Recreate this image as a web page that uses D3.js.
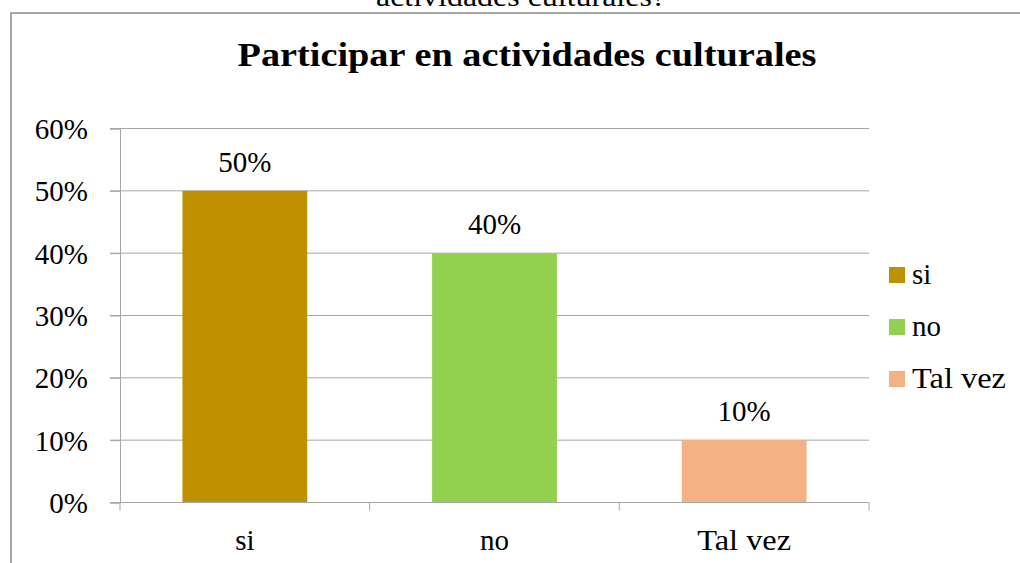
<!DOCTYPE html>
<html>
<head>
<meta charset="utf-8">
<script src="https://cdn.jsdelivr.net/npm/d3@7"></script>
<style>
  body { margin: 0; background: #fff; }
  text { font-family: "Liberation Serif", "Times New Roman", serif; fill: #000; }
</style>
</head>
<body>
<div id="main"></div>
<script>
// data
const categories = ["si", "no", "Tal vez"];
const values = [0.5, 0.4, 0.1];
const colors = ["#BF9000", "#92D050", "#F4B183"];
const yTicks = [0, 0.1, 0.2, 0.3, 0.4, 0.5, 0.6];

const width = 1020;
const height = 563;

const svg = d3.select('#main')
              .append('svg')
              .attr('width', width)
              .attr('height', height);

// helper: stretch wider words like the source
function fit(sel) {
  sel.each(function(d) {
    if (d === 'Tal vez') d3.select(this).attr('textLength', 94).attr('lengthAdjust', 'spacingAndGlyphs');
  });
}

// cut off caption above the chart frame
svg.append('text')
   .attr('x', 521).attr('y', 6)
   .attr('text-anchor', 'middle')
   .style('font-size', '28px')
   .attr('textLength', 290).attr('lengthAdjust', 'spacingAndGlyphs')
   .text('actividades culturales?');

// chart frame
svg.append('path')
   .attr('d', 'M11,' + height + ' V13 H' + width)
   .attr('fill', 'none')
   .attr('stroke', '#a6a6a6')
   .attr('stroke-width', 2);

// title
svg.append('text')
   .attr('x', 527).attr('y', 66)
   .attr('text-anchor', 'middle')
   .style('font-size', '34px')
   .style('font-weight', 'bold')
   .attr('textLength', 579).attr('lengthAdjust', 'spacingAndGlyphs')
   .text('Participar en actividades culturales');

// scales
const xScale = d3.scaleBand().domain(categories).range([120, 869]).paddingInner(0.5).paddingOuter(0.25);
const yScale = d3.scaleLinear().domain([0, 0.6]).range([502.5, 128.5]);

// gridlines
svg.append('g').selectAll('line').data(yTicks).enter()
   .append('line')
   .attr('x1', 110).attr('x2', 869)
   .attr('y1', d => yScale(d)).attr('y2', d => yScale(d))
   .attr('stroke', '#a6a6a6').attr('stroke-width', 1);

// y axis
const yAxis = d3.axisLeft(yScale).tickValues(yTicks).tickFormat(d3.format('.0%')).tickSize(10).tickPadding(22);
const gy = svg.append('g').attr('transform', 'translate(120,0)').call(yAxis);
gy.attr('font-family', null).attr('font-size', null);
gy.select('.domain').attr('stroke', '#a6a6a6');
gy.selectAll('.tick line').attr('stroke', '#a6a6a6');
gy.selectAll('.tick text').style('font-size', '29px').attr('dy', '0.34em');

// bars
svg.selectAll('.bar').data(values).enter()
   .append('rect').attr('class', 'bar')
   .attr('x', (d, i) => xScale(categories[i]))
   .attr('width', xScale.bandwidth())
   .attr('y', d => yScale(d))
   .attr('height', d => yScale(0) - yScale(d))
   .attr('fill', (d, i) => colors[i]);

// value labels
svg.selectAll('.lbl').data(values).enter()
   .append('text').attr('class', 'lbl')
   .attr('x', (d, i) => xScale(categories[i]) + xScale.bandwidth() / 2)
   .attr('y', d => yScale(d) - 19)
   .attr('text-anchor', 'middle')
   .style('font-size', '29px')
   .text(d => d3.format('.0%')(d));

// x axis
const step = (869 - 120) / categories.length;
svg.append('line')
   .attr('x1', 120).attr('x2', 869)
   .attr('y1', yScale(0)).attr('y2', yScale(0))
   .attr('stroke', '#a6a6a6');
svg.append('g').selectAll('line').data(d3.range(categories.length + 1)).enter()
   .append('line')
   .attr('x1', d => 120 + d * step).attr('x2', d => 120 + d * step)
   .attr('y1', yScale(0)).attr('y2', yScale(0) + 8)
   .attr('stroke', '#a6a6a6');
svg.append('g').selectAll('text').data(categories).enter()
   .append('text')
   .attr('x', d => xScale(d) + xScale.bandwidth() / 2)
   .attr('y', 550)
   .attr('text-anchor', 'middle')
   .style('font-size', '29px')
   .text(d => d)
   .call(fit);

// legend
const legend = svg.append('g').selectAll('g').data(categories).enter()
   .append('g')
   .attr('transform', (d, i) => 'translate(889,' + (267 + i * 52) + ')');
legend.append('rect')
   .attr('width', 16).attr('height', 16)
   .attr('fill', (d, i) => colors[i]);
legend.append('text')
   .attr('x', 23).attr('y', 17)
   .style('font-size', '29px')
   .text(d => d)
   .call(fit);
</script>
</body>
</html>
